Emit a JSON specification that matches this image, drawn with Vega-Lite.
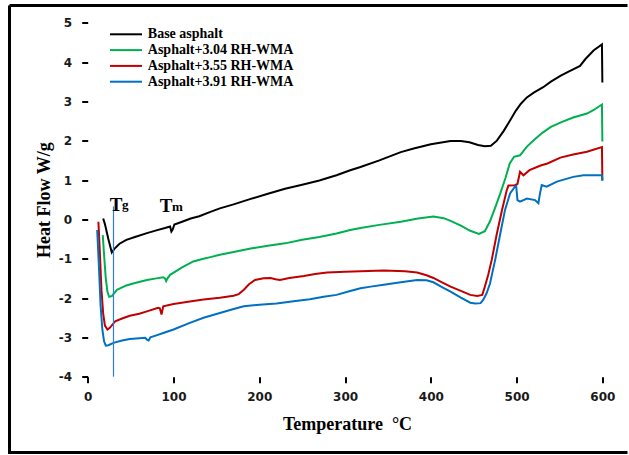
{
  "$schema": "https://vega.github.io/schema/vega-lite/v6.json",
  "width": 618,
  "height": 447,
  "autosize": {"type": "none"},
  "padding": {"left": 9.5, "top": 5.5, "right": 1.5, "bottom": 2.5},
  "background": "white",
  "config": {
    "view": {"stroke": "black", "strokeWidth": 3, "strokeDash": [618, 447, 1065, 0]},
    "axis": {
      "grid": false,
      "domain": false,
      "tickColor": "black",
      "tickWidth": 2,
      "tickSize": 6,
      "labelFont": "DejaVu Sans",
      "labelFontWeight": "bold",
      "labelFontSize": 12,
      "labelColor": "#1a1a1a",
      "titleFont": "Liberation Serif",
      "titleFontWeight": "bold",
      "titleFontSize": 18,
      "titleColor": "black"
    },
    "legend": {
      "labelFont": "Liberation Serif",
      "labelFontWeight": "bold",
      "labelFontSize": 14,
      "labelColor": "black"
    }
  },
  "datasets": {
    "curves": [
      {"series":"Base asphalt","T":18,"HF":0.02},{"series":"Base asphalt","T":20,"HF":-0.12},{"series":"Base asphalt","T":24,"HF":-0.5},{"series":"Base asphalt","T":28,"HF":-0.84},{"series":"Base asphalt","T":31,"HF":-0.75},{"series":"Base asphalt","T":37,"HF":-0.62},{"series":"Base asphalt","T":45,"HF":-0.52},{"series":"Base asphalt","T":55,"HF":-0.45},{"series":"Base asphalt","T":69,"HF":-0.35},{"series":"Base asphalt","T":80,"HF":-0.28},{"series":"Base asphalt","T":90,"HF":-0.22},{"series":"Base asphalt","T":96,"HF":-0.18},{"series":"Base asphalt","T":97.5,"HF":-0.31},{"series":"Base asphalt","T":99,"HF":-0.26},{"series":"Base asphalt","T":101,"HF":-0.13},{"series":"Base asphalt","T":110,"HF":-0.06},{"series":"Base asphalt","T":120,"HF":0.02},{"series":"Base asphalt","T":130,"HF":0.08},{"series":"Base asphalt","T":143,"HF":0.19},{"series":"Base asphalt","T":154,"HF":0.28},{"series":"Base asphalt","T":170,"HF":0.38},{"series":"Base asphalt","T":190,"HF":0.52},{"series":"Base asphalt","T":210,"HF":0.65},{"series":"Base asphalt","T":230,"HF":0.78},{"series":"Base asphalt","T":250,"HF":0.88},{"series":"Base asphalt","T":270,"HF":0.99},{"series":"Base asphalt","T":290,"HF":1.12},{"series":"Base asphalt","T":306,"HF":1.25},{"series":"Base asphalt","T":318,"HF":1.33},{"series":"Base asphalt","T":340,"HF":1.5},{"series":"Base asphalt","T":365,"HF":1.71},{"series":"Base asphalt","T":380,"HF":1.8},{"series":"Base asphalt","T":400,"HF":1.91},{"series":"Base asphalt","T":423,"HF":1.99},{"series":"Base asphalt","T":435,"HF":1.99},{"series":"Base asphalt","T":445,"HF":1.96},{"series":"Base asphalt","T":455,"HF":1.89},{"series":"Base asphalt","T":463,"HF":1.86},{"series":"Base asphalt","T":470,"HF":1.87},{"series":"Base asphalt","T":477,"HF":2.0},{"series":"Base asphalt","T":485,"HF":2.25},{"series":"Base asphalt","T":492,"HF":2.5},{"series":"Base asphalt","T":499,"HF":2.76},{"series":"Base asphalt","T":505,"HF":2.94},{"series":"Base asphalt","T":512,"HF":3.1},{"series":"Base asphalt","T":520,"HF":3.22},{"series":"Base asphalt","T":531,"HF":3.36},{"series":"Base asphalt","T":540,"HF":3.5},{"series":"Base asphalt","T":551,"HF":3.65},{"series":"Base asphalt","T":560,"HF":3.75},{"series":"Base asphalt","T":574,"HF":3.9},{"series":"Base asphalt","T":580,"HF":4.07},{"series":"Base asphalt","T":590,"HF":4.3},{"series":"Base asphalt","T":599.5,"HF":4.45},{"series":"Base asphalt","T":600,"HF":3.48},
      {"series":"Asphalt+3.04 RH-WMA","T":17.5,"HF":-0.4},{"series":"Asphalt+3.04 RH-WMA","T":19,"HF":-0.9},{"series":"Asphalt+3.04 RH-WMA","T":21,"HF":-1.5},{"series":"Asphalt+3.04 RH-WMA","T":23,"HF":-1.85},{"series":"Asphalt+3.04 RH-WMA","T":25,"HF":-1.97},{"series":"Asphalt+3.04 RH-WMA","T":28,"HF":-1.95},{"series":"Asphalt+3.04 RH-WMA","T":34,"HF":-1.79},{"series":"Asphalt+3.04 RH-WMA","T":45,"HF":-1.68},{"series":"Asphalt+3.04 RH-WMA","T":55,"HF":-1.62},{"series":"Asphalt+3.04 RH-WMA","T":69,"HF":-1.54},{"series":"Asphalt+3.04 RH-WMA","T":80,"HF":-1.5},{"series":"Asphalt+3.04 RH-WMA","T":88,"HF":-1.47},{"series":"Asphalt+3.04 RH-WMA","T":90,"HF":-1.5},{"series":"Asphalt+3.04 RH-WMA","T":91.4,"HF":-1.57},{"series":"Asphalt+3.04 RH-WMA","T":93,"HF":-1.5},{"series":"Asphalt+3.04 RH-WMA","T":96,"HF":-1.41},{"series":"Asphalt+3.04 RH-WMA","T":110,"HF":-1.22},{"series":"Asphalt+3.04 RH-WMA","T":123,"HF":-1.07},{"series":"Asphalt+3.04 RH-WMA","T":135,"HF":-1.0},{"series":"Asphalt+3.04 RH-WMA","T":143,"HF":-0.96},{"series":"Asphalt+3.04 RH-WMA","T":154,"HF":-0.9},{"series":"Asphalt+3.04 RH-WMA","T":170,"HF":-0.83},{"series":"Asphalt+3.04 RH-WMA","T":190,"HF":-0.74},{"series":"Asphalt+3.04 RH-WMA","T":210,"HF":-0.67},{"series":"Asphalt+3.04 RH-WMA","T":230,"HF":-0.61},{"series":"Asphalt+3.04 RH-WMA","T":250,"HF":-0.52},{"series":"Asphalt+3.04 RH-WMA","T":270,"HF":-0.45},{"series":"Asphalt+3.04 RH-WMA","T":290,"HF":-0.36},{"series":"Asphalt+3.04 RH-WMA","T":306,"HF":-0.27},{"series":"Asphalt+3.04 RH-WMA","T":318,"HF":-0.22},{"series":"Asphalt+3.04 RH-WMA","T":340,"HF":-0.14},{"series":"Asphalt+3.04 RH-WMA","T":365,"HF":-0.06},{"series":"Asphalt+3.04 RH-WMA","T":385,"HF":0.02},{"series":"Asphalt+3.04 RH-WMA","T":403,"HF":0.07},{"series":"Asphalt+3.04 RH-WMA","T":415,"HF":0.03},{"series":"Asphalt+3.04 RH-WMA","T":423,"HF":-0.04},{"series":"Asphalt+3.04 RH-WMA","T":435,"HF":-0.16},{"series":"Asphalt+3.04 RH-WMA","T":446,"HF":-0.29},{"series":"Asphalt+3.04 RH-WMA","T":456,"HF":-0.37},{"series":"Asphalt+3.04 RH-WMA","T":463,"HF":-0.3},{"series":"Asphalt+3.04 RH-WMA","T":469,"HF":-0.05},{"series":"Asphalt+3.04 RH-WMA","T":475,"HF":0.3},{"series":"Asphalt+3.04 RH-WMA","T":481,"HF":0.66},{"series":"Asphalt+3.04 RH-WMA","T":487,"HF":1.05},{"series":"Asphalt+3.04 RH-WMA","T":492,"HF":1.42},{"series":"Asphalt+3.04 RH-WMA","T":497,"HF":1.59},{"series":"Asphalt+3.04 RH-WMA","T":504,"HF":1.63},{"series":"Asphalt+3.04 RH-WMA","T":512,"HF":1.85},{"series":"Asphalt+3.04 RH-WMA","T":520,"HF":2.01},{"series":"Asphalt+3.04 RH-WMA","T":530,"HF":2.2},{"series":"Asphalt+3.04 RH-WMA","T":540,"HF":2.35},{"series":"Asphalt+3.04 RH-WMA","T":553,"HF":2.48},{"series":"Asphalt+3.04 RH-WMA","T":566,"HF":2.59},{"series":"Asphalt+3.04 RH-WMA","T":582,"HF":2.69},{"series":"Asphalt+3.04 RH-WMA","T":590,"HF":2.78},{"series":"Asphalt+3.04 RH-WMA","T":599.5,"HF":2.92},{"series":"Asphalt+3.04 RH-WMA","T":600,"HF":1.98},
      {"series":"Asphalt+3.55 RH-WMA","T":12.4,"HF":-0.06},{"series":"Asphalt+3.55 RH-WMA","T":14,"HF":-0.8},{"series":"Asphalt+3.55 RH-WMA","T":16,"HF":-1.8},{"series":"Asphalt+3.55 RH-WMA","T":18,"HF":-2.4},{"series":"Asphalt+3.55 RH-WMA","T":20,"HF":-2.7},{"series":"Asphalt+3.55 RH-WMA","T":23,"HF":-2.8},{"series":"Asphalt+3.55 RH-WMA","T":26,"HF":-2.75},{"series":"Asphalt+3.55 RH-WMA","T":32,"HF":-2.59},{"series":"Asphalt+3.55 RH-WMA","T":40,"HF":-2.52},{"series":"Asphalt+3.55 RH-WMA","T":49,"HF":-2.45},{"series":"Asphalt+3.55 RH-WMA","T":60,"HF":-2.4},{"series":"Asphalt+3.55 RH-WMA","T":69,"HF":-2.34},{"series":"Asphalt+3.55 RH-WMA","T":82,"HF":-2.25},{"series":"Asphalt+3.55 RH-WMA","T":84,"HF":-2.26},{"series":"Asphalt+3.55 RH-WMA","T":86,"HF":-2.42},{"series":"Asphalt+3.55 RH-WMA","T":88,"HF":-2.21},{"series":"Asphalt+3.55 RH-WMA","T":100,"HF":-2.15},{"series":"Asphalt+3.55 RH-WMA","T":119,"HF":-2.09},{"series":"Asphalt+3.55 RH-WMA","T":135,"HF":-2.04},{"series":"Asphalt+3.55 RH-WMA","T":154,"HF":-1.99},{"series":"Asphalt+3.55 RH-WMA","T":170,"HF":-1.94},{"series":"Asphalt+3.55 RH-WMA","T":176,"HF":-1.9},{"series":"Asphalt+3.55 RH-WMA","T":182,"HF":-1.79},{"series":"Asphalt+3.55 RH-WMA","T":188,"HF":-1.65},{"series":"Asphalt+3.55 RH-WMA","T":195,"HF":-1.54},{"series":"Asphalt+3.55 RH-WMA","T":205,"HF":-1.5},{"series":"Asphalt+3.55 RH-WMA","T":213,"HF":-1.49},{"series":"Asphalt+3.55 RH-WMA","T":219,"HF":-1.52},{"series":"Asphalt+3.55 RH-WMA","T":224,"HF":-1.54},{"series":"Asphalt+3.55 RH-WMA","T":235,"HF":-1.49},{"series":"Asphalt+3.55 RH-WMA","T":252,"HF":-1.44},{"series":"Asphalt+3.55 RH-WMA","T":265,"HF":-1.39},{"series":"Asphalt+3.55 RH-WMA","T":279,"HF":-1.35},{"series":"Asphalt+3.55 RH-WMA","T":300,"HF":-1.33},{"series":"Asphalt+3.55 RH-WMA","T":318,"HF":-1.32},{"series":"Asphalt+3.55 RH-WMA","T":345,"HF":-1.3},{"series":"Asphalt+3.55 RH-WMA","T":370,"HF":-1.32},{"series":"Asphalt+3.55 RH-WMA","T":384,"HF":-1.35},{"series":"Asphalt+3.55 RH-WMA","T":395,"HF":-1.42},{"series":"Asphalt+3.55 RH-WMA","T":403,"HF":-1.49},{"series":"Asphalt+3.55 RH-WMA","T":413,"HF":-1.6},{"series":"Asphalt+3.55 RH-WMA","T":423,"HF":-1.71},{"series":"Asphalt+3.55 RH-WMA","T":435,"HF":-1.82},{"series":"Asphalt+3.55 RH-WMA","T":446,"HF":-1.92},{"series":"Asphalt+3.55 RH-WMA","T":454,"HF":-1.95},{"series":"Asphalt+3.55 RH-WMA","T":460,"HF":-1.92},{"series":"Asphalt+3.55 RH-WMA","T":463,"HF":-1.71},{"series":"Asphalt+3.55 RH-WMA","T":467,"HF":-1.4},{"series":"Asphalt+3.55 RH-WMA","T":471,"HF":-1.03},{"series":"Asphalt+3.55 RH-WMA","T":477,"HF":-0.36},{"series":"Asphalt+3.55 RH-WMA","T":483,"HF":0.24},{"series":"Asphalt+3.55 RH-WMA","T":488.5,"HF":0.74},{"series":"Asphalt+3.55 RH-WMA","T":490.5,"HF":0.86},{"series":"Asphalt+3.55 RH-WMA","T":498,"HF":0.87},{"series":"Asphalt+3.55 RH-WMA","T":501,"HF":0.9},{"series":"Asphalt+3.55 RH-WMA","T":504,"HF":1.21},{"series":"Asphalt+3.55 RH-WMA","T":508,"HF":1.12},{"series":"Asphalt+3.55 RH-WMA","T":515,"HF":1.25},{"series":"Asphalt+3.55 RH-WMA","T":528,"HF":1.37},{"series":"Asphalt+3.55 RH-WMA","T":536,"HF":1.42},{"series":"Asphalt+3.55 RH-WMA","T":551,"HF":1.57},{"series":"Asphalt+3.55 RH-WMA","T":566,"HF":1.65},{"series":"Asphalt+3.55 RH-WMA","T":582,"HF":1.72},{"series":"Asphalt+3.55 RH-WMA","T":599.5,"HF":1.84},{"series":"Asphalt+3.55 RH-WMA","T":600,"HF":1.0},
      {"series":"Asphalt+3.91 RH-WMA","T":11,"HF":-0.27},{"series":"Asphalt+3.91 RH-WMA","T":13,"HF":-1.2},{"series":"Asphalt+3.91 RH-WMA","T":15,"HF":-2.2},{"series":"Asphalt+3.91 RH-WMA","T":17,"HF":-2.8},{"series":"Asphalt+3.91 RH-WMA","T":19,"HF":-3.1},{"series":"Asphalt+3.91 RH-WMA","T":21,"HF":-3.21},{"series":"Asphalt+3.91 RH-WMA","T":24,"HF":-3.2},{"series":"Asphalt+3.91 RH-WMA","T":30,"HF":-3.14},{"series":"Asphalt+3.91 RH-WMA","T":40,"HF":-3.08},{"series":"Asphalt+3.91 RH-WMA","T":49,"HF":-3.04},{"series":"Asphalt+3.91 RH-WMA","T":60,"HF":-3.02},{"series":"Asphalt+3.91 RH-WMA","T":67,"HF":-3.01},{"series":"Asphalt+3.91 RH-WMA","T":69,"HF":-3.06},{"series":"Asphalt+3.91 RH-WMA","T":71,"HF":-3.08},{"series":"Asphalt+3.91 RH-WMA","T":73,"HF":-3.0},{"series":"Asphalt+3.91 RH-WMA","T":80,"HF":-2.95},{"series":"Asphalt+3.91 RH-WMA","T":88,"HF":-2.89},{"series":"Asphalt+3.91 RH-WMA","T":100,"HF":-2.8},{"series":"Asphalt+3.91 RH-WMA","T":119,"HF":-2.63},{"series":"Asphalt+3.91 RH-WMA","T":135,"HF":-2.5},{"series":"Asphalt+3.91 RH-WMA","T":143,"HF":-2.45},{"series":"Asphalt+3.91 RH-WMA","T":154,"HF":-2.38},{"series":"Asphalt+3.91 RH-WMA","T":170,"HF":-2.28},{"series":"Asphalt+3.91 RH-WMA","T":182,"HF":-2.21},{"series":"Asphalt+3.91 RH-WMA","T":200,"HF":-2.17},{"series":"Asphalt+3.91 RH-WMA","T":220,"HF":-2.14},{"series":"Asphalt+3.91 RH-WMA","T":240,"HF":-2.08},{"series":"Asphalt+3.91 RH-WMA","T":259,"HF":-2.03},{"series":"Asphalt+3.91 RH-WMA","T":275,"HF":-1.97},{"series":"Asphalt+3.91 RH-WMA","T":290,"HF":-1.92},{"series":"Asphalt+3.91 RH-WMA","T":306,"HF":-1.82},{"series":"Asphalt+3.91 RH-WMA","T":318,"HF":-1.75},{"series":"Asphalt+3.91 RH-WMA","T":330,"HF":-1.71},{"series":"Asphalt+3.91 RH-WMA","T":345,"HF":-1.66},{"series":"Asphalt+3.91 RH-WMA","T":365,"HF":-1.6},{"series":"Asphalt+3.91 RH-WMA","T":384,"HF":-1.54},{"series":"Asphalt+3.91 RH-WMA","T":395,"HF":-1.55},{"series":"Asphalt+3.91 RH-WMA","T":403,"HF":-1.6},{"series":"Asphalt+3.91 RH-WMA","T":413,"HF":-1.72},{"series":"Asphalt+3.91 RH-WMA","T":423,"HF":-1.84},{"series":"Asphalt+3.91 RH-WMA","T":435,"HF":-1.99},{"series":"Asphalt+3.91 RH-WMA","T":446,"HF":-2.12},{"series":"Asphalt+3.91 RH-WMA","T":452,"HF":-2.14},{"series":"Asphalt+3.91 RH-WMA","T":458,"HF":-2.13},{"series":"Asphalt+3.91 RH-WMA","T":461,"HF":-2.05},{"series":"Asphalt+3.91 RH-WMA","T":465,"HF":-1.88},{"series":"Asphalt+3.91 RH-WMA","T":469,"HF":-1.63},{"series":"Asphalt+3.91 RH-WMA","T":475,"HF":-1.03},{"series":"Asphalt+3.91 RH-WMA","T":481,"HF":-0.36},{"series":"Asphalt+3.91 RH-WMA","T":486.5,"HF":0.24},{"series":"Asphalt+3.91 RH-WMA","T":492.4,"HF":0.66},{"series":"Asphalt+3.91 RH-WMA","T":498,"HF":0.83},{"series":"Asphalt+3.91 RH-WMA","T":499.5,"HF":0.85},{"series":"Asphalt+3.91 RH-WMA","T":501,"HF":0.49},{"series":"Asphalt+3.91 RH-WMA","T":504,"HF":0.45},{"series":"Asphalt+3.91 RH-WMA","T":512,"HF":0.53},{"series":"Asphalt+3.91 RH-WMA","T":521.5,"HF":0.49},{"series":"Asphalt+3.91 RH-WMA","T":525.4,"HF":0.41},{"series":"Asphalt+3.91 RH-WMA","T":527.3,"HF":0.66},{"series":"Asphalt+3.91 RH-WMA","T":529.3,"HF":0.87},{"series":"Asphalt+3.91 RH-WMA","T":535,"HF":0.83},{"series":"Asphalt+3.91 RH-WMA","T":547,"HF":0.96},{"series":"Asphalt+3.91 RH-WMA","T":566,"HF":1.08},{"series":"Asphalt+3.91 RH-WMA","T":578,"HF":1.12},{"series":"Asphalt+3.91 RH-WMA","T":599.5,"HF":1.12},{"series":"Asphalt+3.91 RH-WMA","T":600,"HF":0.98}
    ],
    "mainLetters": [
      {"label": "T", "T": 33, "HF": 0.21},
      {"label": "T", "T": 91.3, "HF": 0.19}
    ],
    "subLetters": [
      {"label": "g", "T": 40, "HF": 0.27},
      {"label": "m", "T": 98.3, "HF": 0.2}
    ],
    "marker": [
      {"T": 30, "HF": 0.33, "HF2": -4}
    ]
  },
  "layer": [
    {
      "data": {"name": "curves"},
      "mark": {"type": "line", "strokeWidth": 2, "clip": false},
      "encoding": {
        "x": {
          "field": "T", "type": "quantitative",
          "scale": {"domain": [-91.25, 629.3], "nice": false, "zero": false},
          "axis": {
            "values": [0, 100, 200, 300, 400, 500, 600],
            "offset": -75.8,
            "labelPadding": 9,
            "title": "Temperature\u2002°C",
            "titleX": 337.5,
            "titleY": 53,
            "titleAlign": "center",
            "titleBaseline": "alphabetic"
          }
        },
        "y": {
          "field": "HF", "type": "quantitative",
          "scale": {"domain": [-5.927, 5.437], "nice": false, "zero": false},
          "axis": {
            "values": [-4, -3, -2, -1, 0, 1, 2, 3, 4, 5],
            "labelExpr": "'' + datum.value",
            "offset": -78.2,
            "labelPadding": 10,
            "title": "Heat Flow W/g",
            "titleX": -34,
            "titleY": 194.2,
            "titleAlign": "center",
            "titleBaseline": "bottom",
            "titleAngle": 270
          }
        },
        "color": {
          "field": "series", "type": "nominal",
          "scale": {
            "domain": ["Base asphalt", "Asphalt+3.04 RH-WMA", "Asphalt+3.55 RH-WMA", "Asphalt+3.91 RH-WMA"],
            "range": ["#000000", "#00B050", "#C00000", "#0070C0"]
          },
          "legend": {
            "title": null,
            "orient": "none",
            "legendX": 100,
            "legendY": 21.8,
            "padding": 0,
            "symbolType": "M-4,0H4",
            "symbolSize": 64,
            "symbolStrokeWidth": 2,
            "symbolOffset": 9.5,
            "labelOffset": 14.8,
            "rowPadding": 1.8
          }
        }
      }
    },
    {
      "data": {"name": "marker"},
      "mark": {"type": "rule", "stroke": "#2f7fd8", "strokeWidth": 1.2},
      "encoding": {
        "x": {"field": "T", "type": "quantitative"},
        "y": {"field": "HF", "type": "quantitative"},
        "y2": {"field": "HF2"}
      }
    },
    {
      "data": {"name": "mainLetters"},
      "mark": {"type": "text", "font": "Liberation Serif", "fontWeight": "bold", "fontSize": 19, "align": "center", "baseline": "alphabetic", "color": "black"},
      "encoding": {
        "x": {"field": "T", "type": "quantitative"},
        "y": {"field": "HF", "type": "quantitative"},
        "text": {"field": "label"}
      }
    },
    {
      "data": {"name": "subLetters"},
      "mark": {"type": "text", "font": "Liberation Serif", "fontWeight": "bold", "fontSize": 13, "align": "left", "baseline": "alphabetic", "color": "black"},
      "encoding": {
        "x": {"field": "T", "type": "quantitative"},
        "y": {"field": "HF", "type": "quantitative"},
        "text": {"field": "label"}
      }
    },
    {
      "mark": {"type": "rule", "color": "black", "strokeWidth": 2},
      "encoding": {
        "x": {"datum": 0},
        "x2": {"datum": 602},
        "y": {"datum": -4}
      }
    },
    {
      "mark": {"type": "rule", "color": "black", "strokeWidth": 2},
      "encoding": {
        "x": {"datum": 0},
        "y": {"datum": -4.03},
        "y2": {"datum": 5}
      }
    }
  ]
}
